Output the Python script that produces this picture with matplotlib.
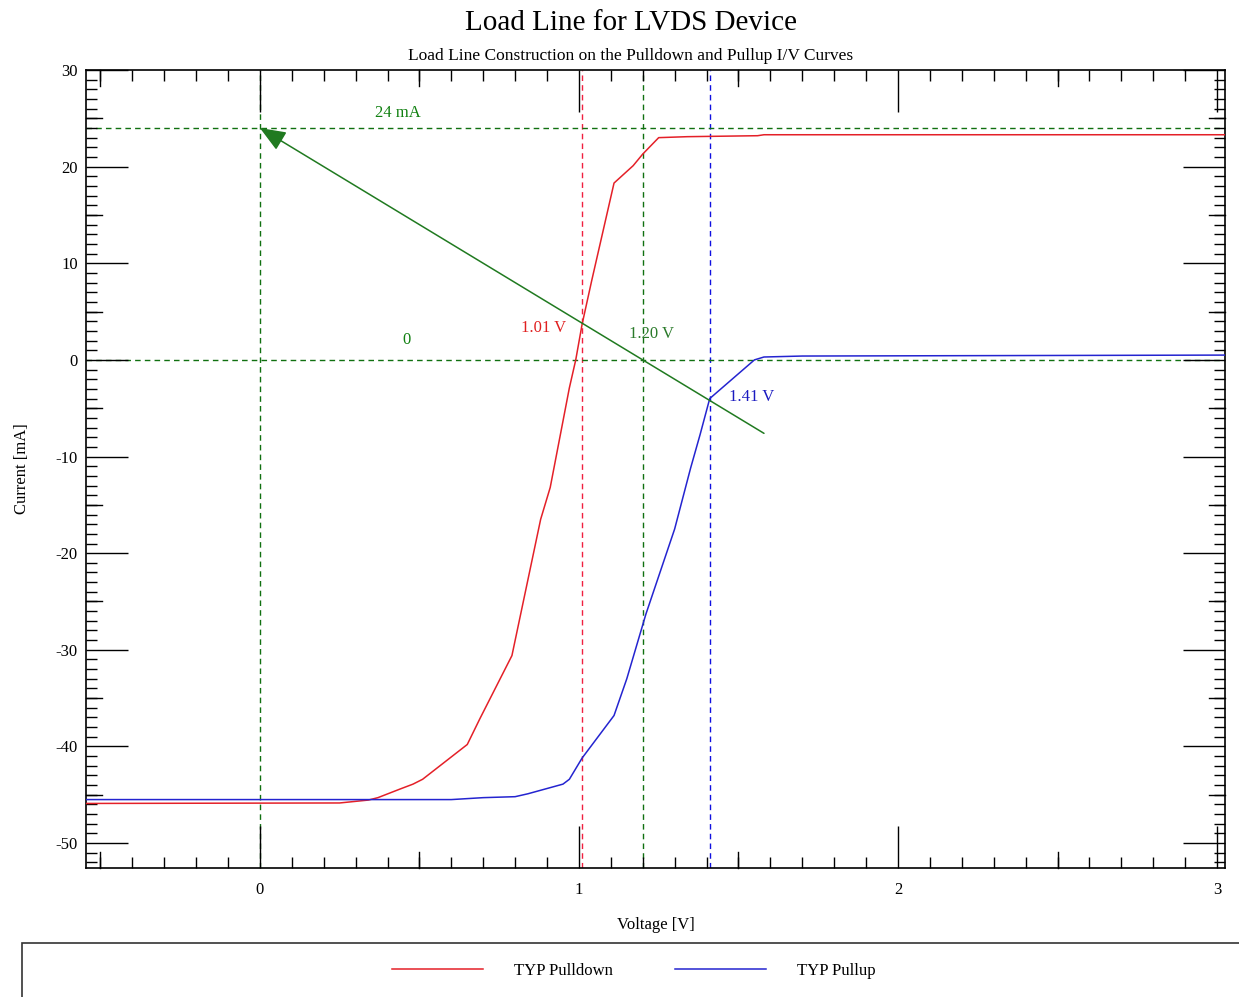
import numpy as np
import matplotlib
matplotlib.use("Agg")
import matplotlib.pyplot as plt
from matplotlib.ticker import MultipleLocator
from matplotlib.patches import Rectangle

plt.rcParams['font.family'] = ['Liberation Serif', 'DejaVu Serif']
plt.rcParams['axes.unicode_minus'] = False

# TYP Pulldown I/V curve (V, mA)
pd_v = [-0.55, 0.25, 0.34, 0.37, 0.44, 0.48, 0.51, 0.65, 0.69, 0.79, 0.88, 0.91,
        0.97, 0.99, 1.01, 1.04, 1.11, 1.17, 1.20, 1.25, 1.34, 1.56, 1.58, 3.05]
pd_i = [-45.9, -45.85, -45.55, -45.3, -44.4, -43.9, -43.4, -39.8, -37.1, -30.6, -16.5, -13.2,
        -2.9, 0.0, 3.7, 8.2, 18.3, 20.1, 21.3, 23.0, 23.1, 23.2, 23.3, 23.3]

# TYP Pullup I/V curve (V, mA)
pu_v = [-0.55, 0.60, 0.70, 0.80, 0.84, 0.95, 0.97, 1.01, 1.11, 1.15, 1.21, 1.30,
        1.35, 1.38, 1.41, 1.48, 1.55, 1.58, 1.70, 3.05]
pu_i = [-45.5, -45.5, -45.3, -45.2, -44.9, -43.9, -43.4, -41.2, -36.8, -33.0, -26.3, -17.5,
        -11.2, -7.7, -4.0, -2.0, 0.0, 0.3, 0.4, 0.5]

# load line (50 ohm) from open-circuit voltage back to short-circuit current
load_v = [1.58, 0.0]
load_i = [-7.6, 24.0]

# construction lines
vmarks = [0.0, 1.01, 1.20, 1.41]
vmark_colors = ['#107010', '#f02040', '#107010', '#1010e0']
hmarks = [24.0, 0.0]

labels = ['24 mA', '0', '1.01 V', '1.20 V', '1.41 V']
label_x = [0.433, 0.458, 0.89, 1.229, 1.542]
label_y = [25.55, 2.06, 3.3, 2.7, -3.8]
label_colors = ['#108010', '#108010', '#e02020', '#2a7a2a', '#1a1ac0']

fig = plt.figure(figsize=(12.39, 9.97), dpi=100)
ax = fig.add_axes([86/1239, 1 - 868/997, (1225 - 86)/1239, (868 - 70)/997])

for x, c in zip(vmarks, vmark_colors):
    ax.axvline(x, color=c, lw=1, ls=(0, (4, 3)), zorder=1)
for y in hmarks:
    ax.axhline(y, color='#107010', lw=1, ls=(0, (4, 3)), zorder=1)

l1, = ax.plot(pd_v, pd_i, color='#e42028', lw=1.1, label='TYP Pulldown', zorder=3)
l2, = ax.plot(pu_v, pu_i, color='#2424d0', lw=1.1, label='TYP Pullup', zorder=3)

ax.annotate('', xy=(load_v[1], load_i[1]), xytext=(load_v[0], load_i[0]),
            arrowprops=dict(arrowstyle='-|>,head_length=0.8,head_width=0.32',
                            color='#207a20', lw=1.1, mutation_scale=20,
                            shrinkA=0, shrinkB=0), zorder=4)

for t, x, y, c in zip(labels, label_x, label_y, label_colors):
    ax.text(x, y, t, color=c, fontsize=12, ha='center', va='center')

ax.set_xlim(-0.545, 3.025)
ax.set_ylim(-52.58, 30)

ax.xaxis.set_major_locator(MultipleLocator(1))
ax.xaxis.set_minor_locator(MultipleLocator(0.1))
ax.yaxis.set_major_locator(MultipleLocator(10))
ax.yaxis.set_minor_locator(MultipleLocator(1))
ax.tick_params(which='both', direction='in', top=True, right=True, width=1, color='black')
ax.tick_params(which='major', length=30, labelsize=12, pad=6)
ax.tick_params(which='minor', length=8)
ax.tick_params(axis='x', which='major', pad=10)

# medium ticks at halves / fives
for xv in np.arange(-0.5, 3.01, 1.0):
    ax.plot([xv, xv], [0, 16/798], color='black', lw=1, transform=ax.get_xaxis_transform(), clip_on=False)
    ax.plot([xv, xv], [1, 1 - 16/798], color='black', lw=1, transform=ax.get_xaxis_transform(), clip_on=False)
for yv in np.arange(-45, 30, 10):
    ax.plot([0, 16/1139], [yv, yv], color='black', lw=1, transform=ax.get_yaxis_transform(), clip_on=False)
    ax.plot([1, 1 - 16/1139], [yv, yv], color='black', lw=1, transform=ax.get_yaxis_transform(), clip_on=False)

for s in ax.spines.values():
    s.set_linewidth(1.2)

ax.set_xlabel('Voltage [V]', fontsize=12, labelpad=14)
ax.set_ylabel('Current [mA]', fontsize=12, labelpad=18)

fig.text(631/1239, 1 - 23/997, 'Load Line for LVDS Device', fontsize=21, ha='center', va='center')
fig.text(631/1239, 1 - 56/997, 'Load Line Construction on the Pulldown and Pullup I/V Curves',
         fontsize=12.5, ha='center', va='center')

fig.patches.append(Rectangle((22/1239, -0.05), 1.1, 0.05 + 54/997, transform=fig.transFigure,
                             fill=False, edgecolor='#333333', lw=1.2))
fig.legend(handles=[l1, l2], loc='center', bbox_to_anchor=(634/1239, 1 - 971/997), ncol=2,
           frameon=False, fontsize=12, handlelength=5.45, handletextpad=1.9, columnspacing=3.7)

fig.savefig('out.png', dpi=100, facecolor='white')
